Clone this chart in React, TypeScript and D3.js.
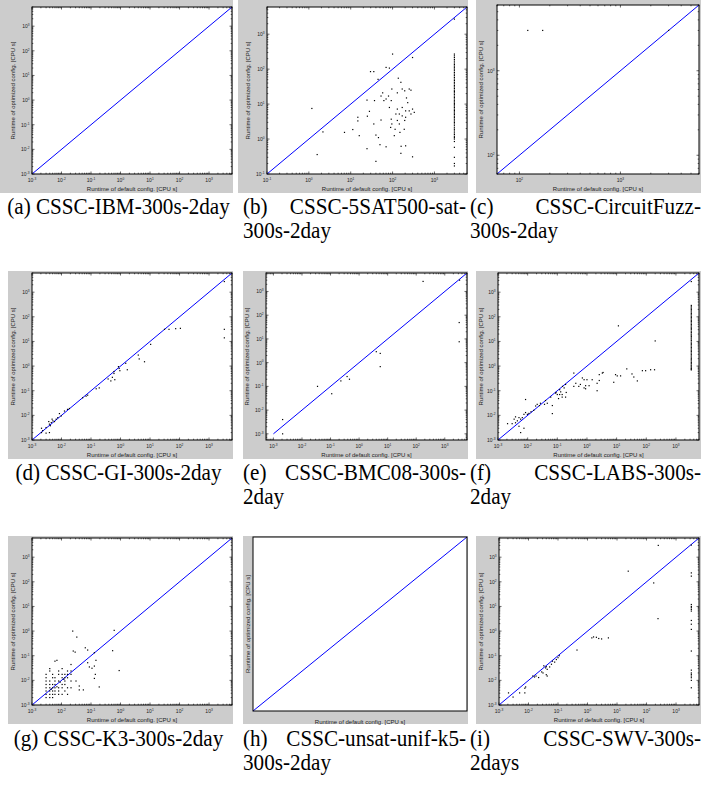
import React from 'react';
import * as d3 from 'd3';

type Pt = [number, number];

const panelLetters = ['(a)', '(b)', '(c)', '(d)', '(e)', '(f)', '(g)', '(h)', '(i)'];
const captionLine1 = ['CSSC-IBM-300s-2day', 'CSSC-5SAT500-sat-', 'CSSC-CircuitFuzz-', 'CSSC-GI-300s-2day', 'CSSC-BMC08-300s-', 'CSSC-LABS-300s-', 'CSSC-K3-300s-2day', 'CSSC-unsat-unif-k5-', 'CSSC-SWV-300s-'];
const captionLine2 = ['', '300s-2day', '300s-2day', '', '2day', '2day', '', '300s-2day', '2days'];

const xLabel = 'Runtime of default config. [CPU s]';
const yLabel = 'Runtime of optimized config. [CPU s]';

const domainMin = [1e-3, 0.1, 60, 1e-3, 5.5e-4, 1e-3, 1e-3, 1e-3, 1e-3];
const domainMax = [6000, 6000, 6000, 6000, 6000, 6000, 6000, 6000, 6000];
const diagStart = [1e-3, 0.1, 60, 1e-3, 1e-3, 1e-3, 1e-3, 1e-3, 1e-3];

const aPoints: Pt[] = [];

const bPoints: Pt[] = [
  [1.18, 7.5], [1.58, 0.36], [2.17, 1.6], [7.1, 1.55], [11.2, 1.87], [14.8, 4.2], [14.8, 3.3], [16, 1.25],
  [24.5, 0.53], [24.5, 13], [28, 6.2], [29.7, 85], [35.6, 85], [25, 4.5], [35.6, 2.7], [37, 12.6], [40, 1.3],
  [40, 0.23], [45, 51], [46, 1.1], [50, 0.69], [53, 3.5], [53, 17], [58, 21], [62, 12.6], [70, 14], [70, 112],
  [84, 107], [70, 0.6], [80, 17], [84, 8], [93, 12.6], [96, 27], [93, 3.7], [90, 2.15], [96, 2.7], [100, 270],
  [110, 1.25], [115, 1.9], [120, 5.2], [130, 7.2], [130, 3.4], [130, 21], [137, 55], [145, 5.2], [145, 2.7],
  [150, 1.55], [158, 0.39], [160, 0.62], [158, 42], [170, 8], [170, 4.6], [170, 27], [190, 1.9], [195, 24],
  [195, 3.4], [205, 4.2], [205, 6.4], [205, 0.64], [230, 11], [215, 15], [250, 6.4], [250, 27], [275, 25],
  [275, 5.2], [300, 7.2], [300, 215], [300, 0.31], [330, 5.8], [3000, 2700],
];
const bColumnX = 3000;
const bColumnY = [0.17, 0.2, 0.3, 0.58, 0.85, 1.0, 1.1, 1.2, 1.35, 1.5, 1.7, 1.9, 2.1, 2.4, 2.7, 3.0, 3.3, 3.7,
  4.1, 4.5, 5.0, 5.5, 6.0, 6.6, 7.2, 8.0, 8.8, 9.6, 10.5, 11.5, 12.5, 14, 15.5, 17, 19, 21, 23, 25, 28, 31, 34,
  38, 42, 47, 52, 58, 65, 72, 80, 90, 100, 110, 122, 135, 150, 170, 190, 215, 240, 270];

const cPoints: Pt[] = [[121, 3000], [170, 3000], [3000, 3000]];

const dPoints: Pt[] = [
  [3300, 2700], [3300, 31], [3300, 14], [31, 31], [44, 31], [74, 33], [107, 34], [10.5, 7.6], [4, 2.8],
  [4.3, 1.95], [6.5, 1.5], [1.5, 1.3], [1.7, 0.71], [0.9, 0.8], [0.95, 0.65], [0.85, 0.95], [0.6, 0.6],
  [0.6, 0.5], [0.38, 0.3], [0.47, 0.25], [0.64, 0.28], [0.53, 0.35], [0.19, 0.13], [0.15, 0.12], [0.068, 0.06],
  [0.077, 0.066], [0.052, 0.052], [0.016, 0.0175], [0.0126, 0.015], [0.0185, 0.019], [0.0098, 0.0095],
  [0.0075, 0.0081], [0.0085, 0.0118], [0.0066, 0.007], [0.0051, 0.006], [0.0045, 0.0051], [0.0039, 0.0044],
  [0.0058, 0.0056], [0.0048, 0.007], [0.0037, 0.0056], [0.0042, 0.0038], [0.003, 0.0032], [0.0021, 0.003],
  [0.0039, 0.002], [0.003, 0.0019], [0.0021, 0.002], [0.0023, 0.0024],
];

const ePoints: Pt[] = [
  [174, 2650], [3200, 49], [3200, 7.6], [5.5, 2.45], [4, 2.9], [5.5, 0.68], [0.38, 0.26], [0.46, 0.2],
  [0.23, 0.17], [0.035, 0.1], [0.11, 0.049], [0.0021, 0.004], [0.0021, 0.001], [3300, 3000],
];

const fPoints: Pt[] = [
  [3300, 2700], [11.5, 43], [200, 10.5], [0.36, 0.52], [0.7, 0.33], [0.8, 0.28], [0.42, 0.2], [0.36, 0.15],
  [0.53, 0.15], [0.6, 0.18], [0.9, 0.16], [0.8, 0.13], [0.9, 0.12], [1.18, 0.16], [1.0, 0.28], [1.5, 0.28],
  [2.2, 0.2], [2.6, 0.26], [2.6, 0.45], [3.3, 0.52], [3.5, 0.55], [2.2, 0.1], [8, 0.22], [9.2, 0.45],
  [10.5, 0.4], [13.6, 0.4], [22, 0.77], [33, 0.48], [38, 0.36], [50, 0.25], [74, 0.65], [95, 0.65],
  [140, 0.71], [190, 0.71], [0.19, 0.18], [0.146, 0.07], [0.17, 0.13], [0.13, 0.09], [0.12, 0.07],
  [0.146, 0.055], [0.19, 0.055], [0.2, 0.085], [0.11, 0.048], [0.088, 0.08], [0.1, 0.07], [0.068, 0.0118],
  [0.068, 0.025], [0.046, 0.031], [0.037, 0.028], [0.027, 0.031], [0.021, 0.028], [0.0186, 0.024],
  [0.0085, 0.044], [0.0085, 0.013], [0.0075, 0.011], [0.0098, 0.011], [0.011, 0.012], [0.0051, 0.0081],
  [0.0058, 0.007], [0.0045, 0.006], [0.0039, 0.005], [0.0035, 0.007], [0.0039, 0.0087], [0.0066, 0.0081],
  [0.0021, 0.0046], [0.003, 0.0046], [0.0051, 0.0036], [0.0075, 0.003], [0.0058, 0.002], [0.013, 0.014],
  [0.016, 0.016], [0.025, 0.025], [0.04, 0.04], [0.06, 0.055], [0.09, 0.085], [0.15, 0.15], [0.12, 0.11],
];
const fColumnX = 3300;
const fColumnY = [0.7, 0.75, 0.8, 0.9, 1.0, 1.1, 1.25, 1.4, 1.6, 1.8, 2.0, 2.3, 2.6, 3.0, 3.4, 3.9, 4.4, 5.0,
  5.7, 6.5, 7.4, 8.4, 9.5, 11, 12.5, 14, 16, 18, 20, 23, 26, 30, 34, 38, 43, 49, 56, 64, 72, 82, 93, 105, 120,
  135, 155, 175, 200, 225, 255, 290];

const gPoints: Pt[] = [
  [0.024, 1.0], [0.033, 0.57], [0.61, 1.07], [0.54, 0.16], [0.025, 0.155], [0.029, 0.14], [0.064, 0.21],
  [0.077, 0.17], [0.13, 0.133], [0.147, 0.065], [0.077, 0.052], [0.088, 0.035], [0.108, 0.031], [0.13, 0.038],
  [0.9, 0.025], [0.19, 0.0054], [0.13, 0.012], [0.14, 0.0175], [0.055, 0.0041], [0.04, 0.0041], [0.04, 0.0059],
  [0.031, 0.0094], [0.007, 0.065], [0.021, 0.044],
  [0.003, 0.002], [0.003, 0.0027], [0.003, 0.0037], [0.003, 0.005], [0.003, 0.0068], [0.003, 0.0094],
  [0.003, 0.0128], [0.003, 0.0175], [0.004, 0.002], [0.004, 0.0027], [0.004, 0.0037], [0.004, 0.005],
  [0.004, 0.0068], [0.004, 0.0094], [0.004, 0.024], [0.004, 0.03], [0.005, 0.002], [0.005, 0.0027],
  [0.005, 0.0037], [0.005, 0.005], [0.005, 0.0068], [0.005, 0.0128], [0.005, 0.0175], [0.006, 0.0027],
  [0.006, 0.0037], [0.006, 0.005], [0.006, 0.0068], [0.006, 0.0094], [0.006, 0.0128], [0.006, 0.06],
  [0.008, 0.0027], [0.008, 0.0037], [0.008, 0.005], [0.008, 0.0094], [0.008, 0.0175], [0.008, 0.024],
  [0.0105, 0.0027], [0.0105, 0.005], [0.0105, 0.0068], [0.0105, 0.0128], [0.0105, 0.0175], [0.0105, 0.03],
  [0.013, 0.0037], [0.013, 0.0068], [0.013, 0.0094], [0.013, 0.0128], [0.013, 0.0175], [0.016, 0.0027],
  [0.016, 0.005], [0.016, 0.0128], [0.016, 0.0175], [0.016, 0.024], [0.021, 0.005], [0.021, 0.0094],
  [0.021, 0.0175], [0.021, 0.024], [0.0045, 0.0044], [0.007, 0.0055], [0.009, 0.0085], [0.012, 0.011],
];

const hPoints: Pt[] = [];

const iPoints: Pt[] = [
  [3300, 3100], [250, 3000], [24, 270], [175, 90], [245, 3.2], [0.44, 0.17], [1.4, 0.53], [1.6, 0.58],
  [2.0, 0.56], [2.4, 0.5], [3.0, 0.48], [5.1, 0.53], [0.04, 0.036], [0.033, 0.039], [0.038, 0.032],
  [0.043, 0.028], [0.052, 0.035], [0.06, 0.045], [0.077, 0.055], [0.088, 0.07], [0.1, 0.083], [0.11, 0.1],
  [0.022, 0.013], [0.016, 0.0137], [0.018, 0.015], [0.014, 0.015], [0.031, 0.02], [0.008, 0.0054],
  [0.0075, 0.0048], [0.005, 0.0031], [0.0075, 0.0031], [0.003, 0.0021], [0.0021, 0.0031], [0.04, 0.017],
  [0.043, 0.015], [0.028, 0.022], [0.065, 0.06],
];
const iColumnX = 3300;
const iColumnY = [230, 170, 12, 10, 8.9, 7.6, 6.5, 2.7, 1.9, 1.17, 0.155, 0.026, 0.02, 0.0175, 0.015, 0.0128, 0.01, 0.005];

const allPoints: Pt[][] = [
  aPoints,
  [...bPoints, ...bColumnY.map((v) => [bColumnX, v] as Pt)],
  cPoints,
  dPoints,
  ePoints,
  [...fPoints, ...fColumnY.map((v) => [fColumnX, v] as Pt)],
  gPoints,
  hPoints,
  [...iPoints, ...iColumnY.map((v) => [iColumnX, v] as Pt)],
];

// layout
const grays = [
  [0, 0, 233, 193], [238, 0, 468, 193], [476, 0, 701, 193],
  [8, 271, 233, 459], [243, 271, 468, 459], [476, 271, 701, 459],
  [8, 536, 233, 724], [243, 536, 468, 724], [476, 536, 701, 724],
];
const boxes = [
  [32, 7, 232, 174], [267, 7, 467, 174], [497, 5, 699, 174],
  [32, 273, 232, 440], [266, 273, 467, 440], [498, 273, 699, 440],
  [32, 538, 232, 705], [253, 537, 467, 711], [499, 538, 699, 705],
];
const yLabelX = [13, 248, 481, 13, 247, 481, 13, 248, 481];
const showTicks = [true, true, true, true, true, true, true, false, true];

const FONT = 'Liberation Sans, Arial, Helvetica, sans-serif';

function Panel({ i }: { i: number }) {
  const [gx0, gy0, gx1, gy1] = grays[i];
  const [bx0, by0, bx1, by1] = boxes[i];
  const dom: [number, number] = [domainMin[i], domainMax[i]];
  const x = d3.scaleLog().domain(dom).range([bx0, bx1]);
  const y = d3.scaleLog().domain(dom).range([by1, by0]);
  const ticks: { v: number; major: boolean }[] = [];
  const k0 = Math.floor(Math.log10(dom[0]));
  const k1 = Math.ceil(Math.log10(dom[1]));
  for (let k = k0; k <= k1; k++) {
    for (let m = 1; m <= 9; m++) {
      const v = m * Math.pow(10, k);
      if (v >= dom[0] * 0.999 && v <= dom[1] * 1.001) ticks.push({ v, major: m === 1 });
    }
  }
  const majors = ticks.filter((t) => t.major);
  const midY = (by0 + by1) / 2;
  const midX = (bx0 + bx1) / 2;
  const pts = allPoints[i];
  return (
    <g>
      <rect x={gx0} y={gy0} width={gx1 - gx0} height={gy1 - gy0} fill="#cccccc" />
      <rect x={bx0} y={by0} width={bx1 - bx0} height={by1 - by0} fill="#ffffff" />
      {showTicks[i] && ticks.map((t, j) => {
        const L = t.major ? 2.5 : 1.3;
        const px = x(t.v);
        const py = y(t.v);
        return (
          <g key={j} stroke="#000" strokeWidth={0.6}>
            <line x1={px} x2={px} y1={by1} y2={by1 - L} />
            <line x1={px} x2={px} y1={by0} y2={by0 + L} />
            <line x1={bx0} x2={bx0 + L} y1={py} y2={py} />
            <line x1={bx1} x2={bx1 - L} y1={py} y2={py} />
          </g>
        );
      })}
      <line x1={x(diagStart[i])} y1={y(diagStart[i])} x2={x(dom[1])} y2={y(dom[1])} stroke="#0000ff" strokeWidth={1} />
      {pts.map((p, j) => (
        <rect key={j} x={x(p[0]) - 0.6} y={y(p[1]) - 0.6} width={1.2} height={1.2} fill="#000" />
      ))}
      <rect x={bx0} y={by0} width={bx1 - bx0} height={by1 - by0} fill="none" stroke="#000" strokeWidth={1} />
      {showTicks[i] && majors.map((t, j) => {
        const e = Math.round(Math.log10(t.v));
        return (
          <g key={'l' + j} fontFamily={FONT} fill="#222">
            <text x={x(t.v)} y={by1 + 8} fontSize={5} textAnchor="middle">
              10<tspan fontSize={3.2} dy={-2.2}>{e}</tspan>
            </text>
            <text x={bx0 - 2.5} y={y(t.v) + 2} fontSize={5} textAnchor="end">
              10<tspan fontSize={3.2} dy={-2.2}>{e}</tspan>
            </text>
          </g>
        );
      })}
      <text x={midX} y={(showTicks[i] ? by1 : by1 - 4) + 17} fontSize={6} fontFamily={FONT} fill="#222" textAnchor="middle">
        {xLabel}
      </text>
      <text transform={`translate(${yLabelX[i] + 2},${midY}) rotate(-90)`} fontSize={6} fontFamily={FONT} fill="#222" textAnchor="middle">
        {yLabel}
      </text>
    </g>
  );
}

const colCaption = [
  { x0: 4, x1: 233 },
  { x0: 243, x1: 466 },
  { x0: 470, x1: 701 },
];
const rowCaptionY = [214, 480, 746];

function Caption({ i }: { i: number }) {
  const col = i % 3;
  const row = Math.floor(i / 3);
  const { x0, x1 } = colCaption[col];
  const yb = rowCaptionY[row];
  const serif = 'Liberation Serif, Times New Roman, serif';
  const fs = 23;
  const sx = 0.92;
  if (!captionLine2[i]) {
    return (
      <g transform={`translate(${(x0 + x1) / 2},${yb}) scale(${sx},1)`}>
        <text x={0} y={0} fontSize={fs} fontFamily={serif} textAnchor="middle" fill="#000">
          {panelLetters[i] + ' ' + captionLine1[i]}
        </text>
      </g>
    );
  }
  return (
    <g fontFamily={serif} fontSize={fs} fill="#000">
      <g transform={`translate(${x0},${yb}) scale(${sx},1)`}>
        <text x={0} y={0}>{panelLetters[i]}</text>
      </g>
      <g transform={`translate(${x1},${yb}) scale(${sx},1)`}>
        <text x={0} y={0} textAnchor="end">{captionLine1[i]}</text>
      </g>
      <g transform={`translate(${x0},${yb + 24}) scale(${sx},1)`}>
        <text x={0} y={0}>{captionLine2[i]}</text>
      </g>
    </g>
  );
}

export default function App() {
  const idx = [0, 1, 2, 3, 4, 5, 6, 7, 8];
  return (
    <svg width={701} height={789} style={{ position: 'absolute', left: 0, top: 0, background: '#fff' }}>
      <rect x={0} y={0} width={701} height={789} fill="#fff" />
      {idx.map((i) => <Panel key={i} i={i} />)}
      {idx.map((i) => <Caption key={'c' + i} i={i} />)}
    </svg>
  );
}
